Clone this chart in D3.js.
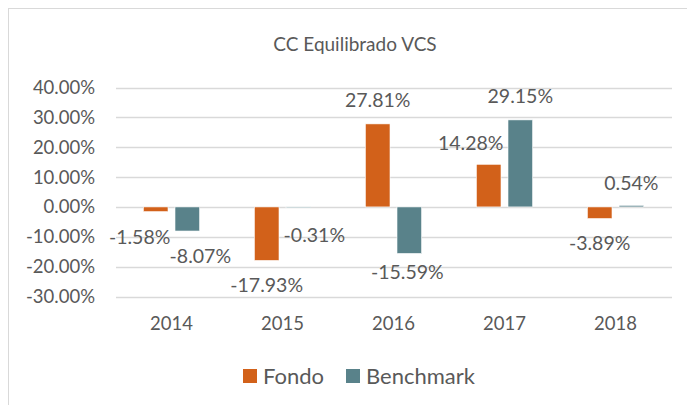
<!DOCTYPE html>
<html>
<head>
<meta charset="utf-8">
<script src="https://cdn.jsdelivr.net/npm/d3@7"></script>
<style>
  body { margin: 0; background: #fff; }
  text { font-family: Lato, "Open Sans", sans-serif; fill: #595959; }
</style>
</head>
<body>
<div id="chart"></div>
<script>
// Data
var years = ["2014", "2015", "2016", "2017", "2018"];
var fondo = [-1.58, -17.93, 27.81, 14.28, -3.89];
var benchmark = [-8.07, -0.31, -15.59, 29.15, 0.54];
var yTicks = [-30, -20, -10, 0, 10, 20, 30, 40];
var seriesNames = ["Fondo", "Benchmark"];

var width = 687, height = 405;
var colors = { Fondo: "#D2611A", Benchmark: "#59828A" };

// labels in the reference were nudged by hand; offsets from the bar end
var labelNudge = {
    Fondo:     [[-16, 26], [0, 25], [0, -24], [-18, -21], [0, 25]],
    Benchmark: [[13, 25], [16, 27], [-2, 19], [0, -24], [0, -22]]
};

var svg = d3.select('#chart')
    .append('svg')
    .attr('width', width)
    .attr('height', height);

// chart area border
svg.append('rect')
    .attr('x', 8.5).attr('y', 8.5)
    .attr('width', width + 20).attr('height', height + 20)
    .attr('fill', 'none')
    .attr('stroke', '#d9d9d9')
    .attr('stroke-width', 1);

svg.append('text')
    .attr('x', 355)
    .attr('y', 51)
    .attr('text-anchor', 'middle')
    .style('font-size', '19px')
    .text('CC Equilibrado VCS');

var x = d3.scaleBand().domain(years).range([116, 671]);
var y = d3.scaleLinear().domain([-30, 40]).range([296.5, 87.5]);

var barW = x.bandwidth() * 0.222;
var barGap = x.bandwidth() * 0.063;
var inner = d3.scaleOrdinal().domain(seriesNames)
    .range([x.bandwidth() / 2 - barGap / 2 - barW, x.bandwidth() / 2 + barGap / 2]);

// gridlines
svg.append('g')
    .selectAll('line')
    .data(yTicks)
    .enter().append('line')
    .attr('x1', 116).attr('x2', 672)
    .attr('y1', d => Math.round(y(d)) + 0.5)
    .attr('y2', d => Math.round(y(d)) + 0.5)
    .attr('stroke', '#d9d9d9')
    .attr('stroke-width', 1.3);

// y tick labels
svg.append('g')
    .selectAll('text')
    .data(yTicks)
    .enter().append('text')
    .attr('x', 95)
    .attr('y', d => y(d))
    .attr('dy', '0.35em')
    .attr('text-anchor', 'end')
    .style('font-size', '18.5px')
    .text(d => d.toFixed(2) + '%');

// x labels
svg.append('g')
    .selectAll('text')
    .data(years)
    .enter().append('text')
    .attr('x', d => x(d) + x.bandwidth() / 2)
    .attr('y', 324)
    .attr('dy', '0.35em')
    .attr('text-anchor', 'middle')
    .style('font-size', '18.5px')
    .text(d => d);

var rows = [];
years.forEach(function(yr, i) {
    rows.push({ year: yr, series: 'Fondo', value: fondo[i], i: i });
    rows.push({ year: yr, series: 'Benchmark', value: benchmark[i], i: i });
});

svg.append('g')
    .selectAll('rect')
    .data(rows)
    .enter().append('rect')
    .attr('x', d => x(d.year) + inner(d.series))
    .attr('width', barW)
    .attr('y', d => y(Math.max(0, d.value)))
    .attr('height', d => Math.abs(y(d.value) - y(0)))
    .attr('fill', d => colors[d.series])
    .attr('stroke', '#fff')
    .attr('stroke-width', 0.6);

// data labels
svg.append('g')
    .selectAll('text')
    .data(rows)
    .enter().append('text')
    .attr('x', d => x(d.year) + inner(d.series) + barW / 2 + labelNudge[d.series][d.i][0])
    .attr('y', d => y(d.value) + labelNudge[d.series][d.i][1])
    .attr('dy', '0.35em')
    .attr('text-anchor', 'middle')
    .style('font-size', '19.5px')
    .text(d => d.value.toFixed(2) + '%');

// legend
var legend = svg.append('g')
    .selectAll('g')
    .data(seriesNames)
    .enter().append('g')
    .attr('transform', (d, i) => 'translate(' + [243, 346][i] + ',369)');

legend.append('rect')
    .attr('width', 14)
    .attr('height', 14)
    .attr('fill', d => colors[d]);

legend.append('text')
    .attr('x', 20)
    .attr('y', 7)
    .attr('dy', '0.35em')
    .style('font-size', '22px')
    .text(d => d);
</script>
</body>
</html>
